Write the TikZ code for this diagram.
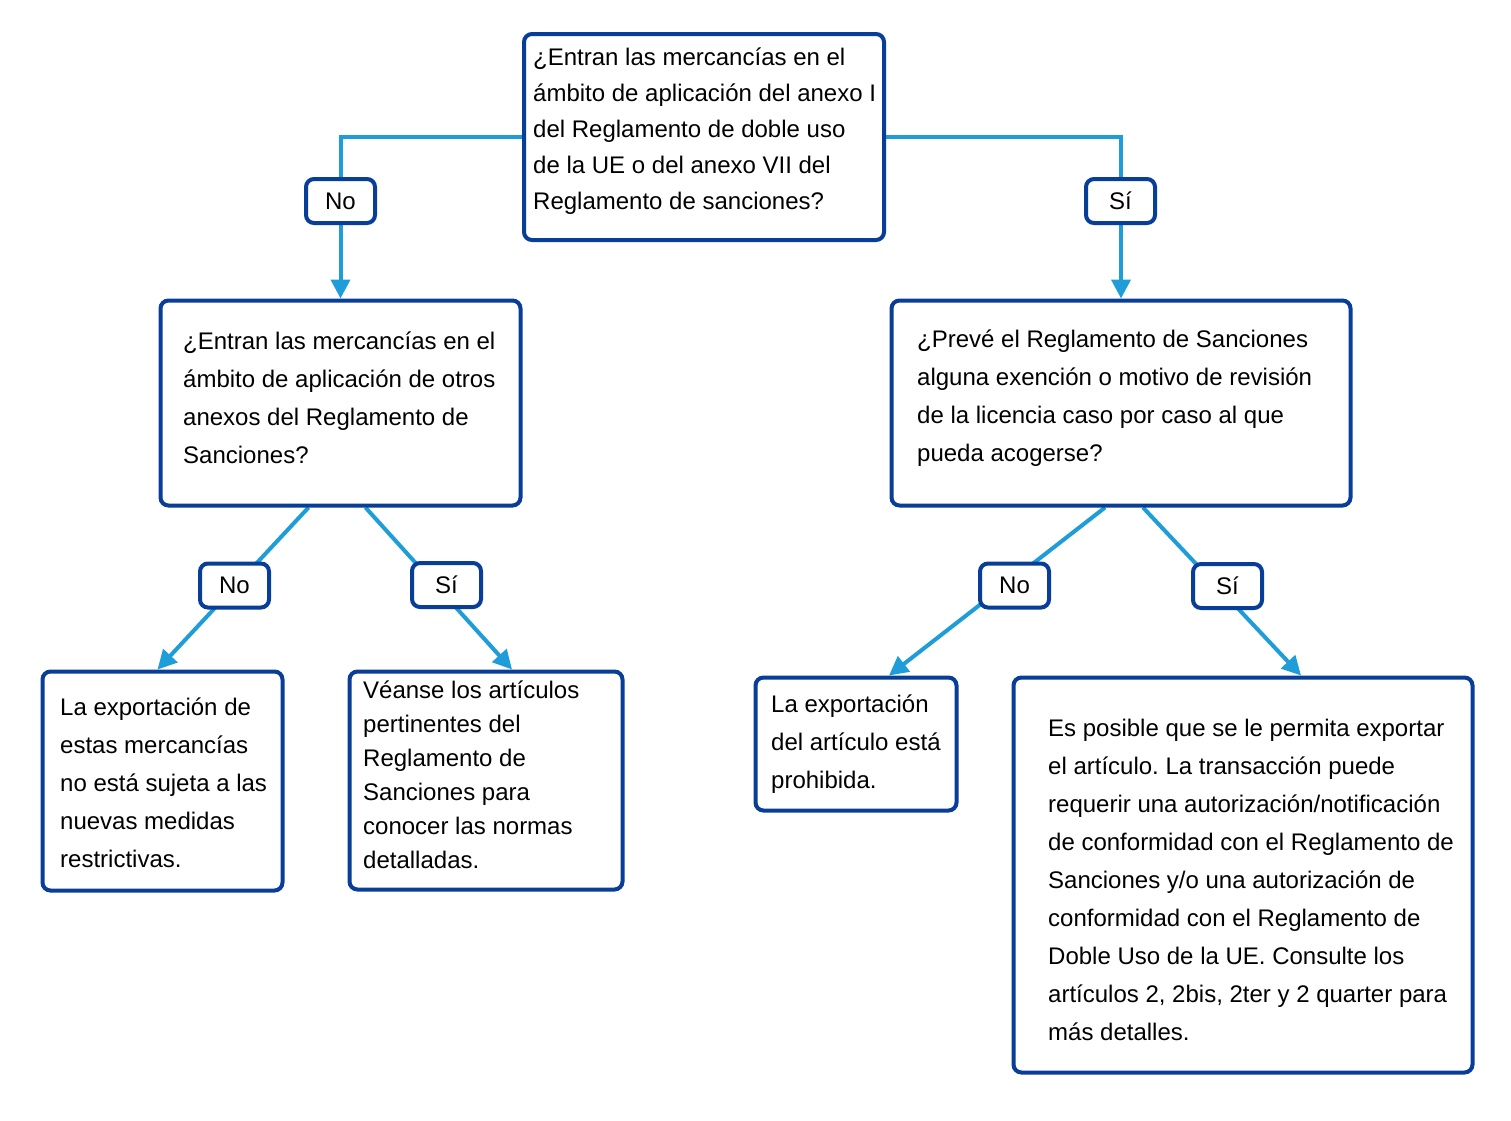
\documentclass[tikz,border=0pt]{standalone}
\usepackage{fontspec}
\setmainfont{Liberation Sans}
\usetikzlibrary{calc,arrows.meta,backgrounds}
\definecolor{bord}{RGB}{8,62,152}
\definecolor{conn}{RGB}{30,157,217}
\begin{document}
\frenchspacing
\begin{tikzpicture}[x=1pt,y=-1pt,
  box/.style={draw=bord, line width=4pt, rounded corners=8pt, fill=white, inner sep=0pt},
  lab/.style={box, minimum width=69pt, minimum height=44pt, font=\fontsize{24}{29}\selectfont},
  txt/.style={anchor=north west, inner sep=0pt, align=left, font=\frenchspacing\fontsize{24}{38}\selectfont},
  con/.style={draw=conn, line width=4pt, -{Triangle[length=19pt,width=19pt]}}]
\useasboundingbox (0,0) rectangle (1511,1120);
% boxes
\node[box, minimum width=360pt, minimum height=206pt] (top) at (704,137) {};
\node[box, minimum width=360pt, minimum height=205pt] (q2) at (340.5,403) {};
\node[box, minimum width=459pt, minimum height=205pt] (q3) at (1121,403) {};
\node[box, minimum width=240pt, minimum height=219pt] (a4) at (162.5,781) {};
\node[box, minimum width=273pt, minimum height=218pt] (a5) at (486,780.5) {};
\node[box, minimum width=201pt, minimum height=133pt] (a6) at (856,744) {};
\node[box, minimum width=459pt, minimum height=395pt] (a7) at (1243,875) {};
% texts
\node[txt, font=\fontsize{24}{36}\selectfont] (ttop) at (533,47.5) {¿Entran las mercancías en el\\ámbito de aplicación del anexo I\\del Reglamento de doble uso\\de la UE o del anexo VII del\\Reglamento de sanciones?};
\node[txt] (tq2) at (183,331.5) {¿Entran las mercancías en el\\ámbito de aplicación de otros\\anexos del Reglamento de\\Sanciones?};
\node[txt] (tq3) at (917,329.5) {¿Prevé el Reglamento de Sanciones\\alguna exención o motivo de revisión\\de la licencia caso por caso al que\\pueda acogerse?};
\node[txt] (ta4) at (60,697.5) {La exportación de\\estas mercancías\\no está sujeta a las\\nuevas medidas\\restrictivas.};
\node[txt, font=\fontsize{24}{34}\selectfont] (ta5) at (363,680.5) {Véanse los artículos\\pertinentes del\\Reglamento de\\Sanciones para\\conocer las normas\\detalladas.};
\node[txt] (ta6) at (771,694.5) {La exportación\\del artículo está\\prohibida.};
\node[txt] (ta7) at (1048,718.5) {Es posible que se le permita exportar\\el artículo. La transacción puede\\requerir una autorización/notificación\\de conformidad con el Reglamento de\\Sanciones y/o una autorización de\\conformidad con el Reglamento de\\Doble Uso de la UE. Consulte los\\artículos 2, 2bis, 2ter y 2 quarter para\\más detalles.};
% labels
\node[lab] (no1) at (340.5,201) {No};
\node[lab] (si1) at (1120.5,201) {Sí};
\node[lab] (no2) at (234.5,585.5) {No};
\node[lab] (si2) at (446.5,585) {Sí};
\node[lab] (no3) at (1014.5,585.5) {No};
\node[lab] (si3) at (1227.5,586) {Sí};
% connectors
\begin{pgfonlayer}{background}
\draw[con] (top.west) -| (q2.north);
\draw[con] (top.east) -| (q3.north);
\draw[con] ($(q2.south)+(-32,0)$) -- ($(a4.north)+(-5,0)$);
\draw[con] ($(q2.south)+(25,0)$) -- ($(a5.north)+(26,0)$);
\draw[con] ($(q3.south)+(-16,0)$) -- ($(a6.north)+(33,0)$);
\draw[con] ($(q3.south)+(22,0)$) -- ($(a7.north)+(58,0)$);
\end{pgfonlayer}
\end{tikzpicture}
\end{document}
